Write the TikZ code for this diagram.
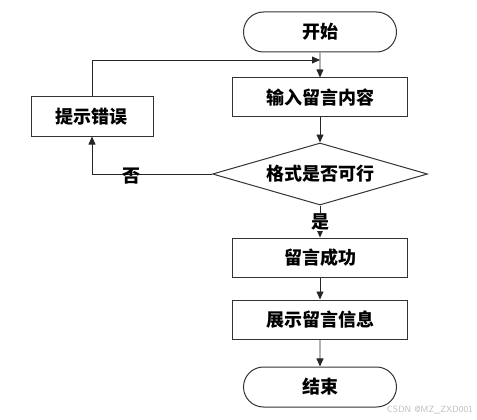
\documentclass[tikz,border=0pt]{standalone}
\usepackage{fontspec}
\setmainfont{Noto Sans CJK SC}
\usetikzlibrary{shapes.geometric,shapes.misc,arrows.meta}
\begin{document}
\begin{tikzpicture}[x=1pt,y=-1pt,
  base/.style={draw=black!80, line width=1pt, font=\fontsize{18}{20}\selectfont\bfseries, inner sep=0pt},
  proc/.style={base, rectangle, minimum width=175pt, minimum height=39pt},
  term/.style={base, rounded rectangle, minimum width=153pt, minimum height=40pt},
  dec/.style={base, diamond, minimum width=215pt, minimum height=62pt, aspect=3.5},
  conn/.style={draw=black!85, line width=0.8pt, -{Triangle[length=8pt,width=7pt]}},
  lbl/.style={font=\fontsize{18}{20}\selectfont\bfseries, inner sep=1pt}]
\useasboundingbox (0,0) rectangle (477,420);
\node[term] (start) at (320,32) {开始};
\node[proc] (input) at (320,97.5) {输入留言内容};
\node[dec] (check) at (320,174) {格式是否可行};
\node[proc, minimum width=122pt] (err) at (92,116.5) {提示错误};
\node[proc] (ok) at (320,257.5) {留言成功};
\node[proc] (show) at (320,319.5) {展示留言信息};
\node[term] (end) at (320,387) {结束};
\coordinate (loop) at (320,60);
\coordinate (corner) at (92,60);
\coordinate (nocorner) at (92,174);
\draw[conn] (start) -- (input);
\draw[conn] (input) -- (check);
\draw[conn] (check.west) -- (nocorner) -- (err);
\draw[conn] (err) -- (corner) -- (loop);
\draw[conn] (check) -- (ok);
\draw[conn] (ok) -- (show);
\draw[conn] (show) -- (end);
\node[lbl] (no) at (131,176) {否};
\node[lbl, fill=white] (yes) at (320,222) {是};
\node[font=\fontsize{9}{10}\selectfont\sffamily, text=black!25, anchor=south east, inner sep=0pt] (wm) at (473,414) {CSDN @MZ\_ZXD001};
\end{tikzpicture}
\end{document}
